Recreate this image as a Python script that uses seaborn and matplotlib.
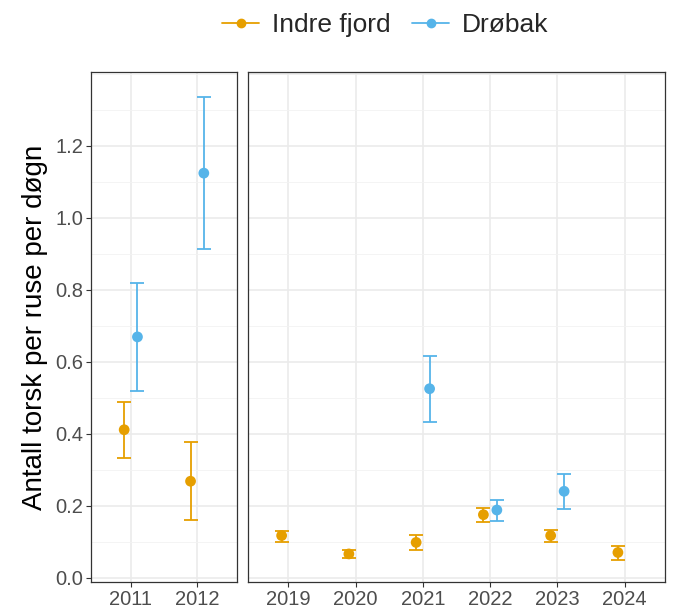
import matplotlib
matplotlib.use("Agg")
import matplotlib.pyplot as plt
from matplotlib.lines import Line2D
from matplotlib.ticker import MultipleLocator
import seaborn as sns
import pandas as pd
import numpy as np

# ---- data ----
years_early = ["2011", "2012"]
years_late = ["2019", "2020", "2021", "2022", "2023", "2024"]

indre_year = ["2011", "2012", "2019", "2020", "2021", "2022", "2023", "2024"]
indre_mean = [0.411, 0.268, 0.117, 0.066, 0.098, 0.175, 0.117, 0.070]
indre_lo = [0.333, 0.160, 0.100, 0.055, 0.077, 0.155, 0.098, 0.050]
indre_hi = [0.488, 0.378, 0.131, 0.076, 0.119, 0.194, 0.132, 0.089]

drobak_year = ["2011", "2012", "2021", "2022", "2023"]
drobak_mean = [0.669, 1.124, 0.525, 0.188, 0.240]
drobak_lo = [0.519, 0.912, 0.433, 0.158, 0.190]
drobak_hi = [0.820, 1.336, 0.617, 0.215, 0.289]

series_names = ["Indre fjord", "Drøbak"]
colors = {"Indre fjord": "#E69F00", "Drøbak": "#56B4E9"}
ylabel = "Antall torsk per ruse per døgn"

df = pd.concat([
    pd.DataFrame({"year": indre_year, "mean": indre_mean, "lo": indre_lo,
                  "hi": indre_hi, "site": "Indre fjord"}),
    pd.DataFrame({"year": drobak_year, "mean": drobak_mean, "lo": drobak_lo,
                  "hi": drobak_hi, "site": "Drøbak"}),
], ignore_index=True)

sns.set_theme(style="white")
plt.rcParams["font.family"] = ["Liberation Sans", "DejaVu Sans"]

fig = plt.figure(figsize=(6.74, 6.12), dpi=100)
W, H = 674, 612
def ax_rect(x0, x1, y0, y1):
    return [x0 / W, 1 - y1 / H, (x1 - x0) / W, (y1 - y0) / H]

ax1 = fig.add_axes(ax_rect(91, 237, 72, 582))
ax2 = fig.add_axes(ax_rect(248, 665, 72, 582))

offsets = {"Indre fjord": -0.1, "Drøbak": 0.1}
ylim = (-0.012, 1.405)

for ax, yrs in [(ax1, years_early), (ax2, years_late)]:
    sub = df[df["year"].isin(yrs)].copy()
    pos = {y: i for i, y in enumerate(yrs)}
    sub["x"] = sub["year"].map(pos) + sub["site"].map(offsets)
    for site in series_names:
        s = sub[sub["site"] == site]
        ax.errorbar(s["x"], s["mean"],
                    yerr=[s["mean"] - s["lo"], s["hi"] - s["mean"]],
                    fmt="none", ecolor=colors[site], elinewidth=1.3,
                    capsize=5, capthick=1.3, zorder=3)
    sns.scatterplot(data=sub, x="x", y="mean", hue="site", palette=colors,
                    hue_order=series_names, s=60, edgecolor="none",
                    legend=False, ax=ax, zorder=4)
    ax.set_xlim(-0.6, len(yrs) - 0.4)
    ax.set_ylim(*ylim)
    ax.set_xticks(range(len(yrs)))
    ax.set_xticklabels(yrs)
    ax.yaxis.set_major_locator(MultipleLocator(0.2))
    ax.yaxis.set_minor_locator(MultipleLocator(0.1))
    ax.grid(which="major", color="#EBEBEB", linewidth=1.2)
    ax.grid(which="minor", axis="y", color="#F2F2F2", linewidth=0.6)
    ax.set_axisbelow(True)
    ax.set_xlabel("")
    ax.set_ylabel("")
    for sp in ax.spines.values():
        sp.set_color("#333333")
        sp.set_linewidth(0.9)
    ax.tick_params(axis="both", which="major", length=3.5, width=0.8,
                   color="#333333", labelsize=14.5, labelcolor="#4D4D4D",
                   bottom=True, left=True, pad=2)
    ax.tick_params(axis="y", which="minor", length=0)

ax1.set_yticks(np.arange(0, 1.21, 0.2))
ax1.set_yticklabels([f"{v:.1f}" for v in np.arange(0, 1.21, 0.2)])
ax2.tick_params(axis="y", which="both", left=False, labelleft=False)
ax1.set_ylabel(ylabel, fontsize=20, color="black", labelpad=5)

handles = [Line2D([0], [0], color=colors[n], marker="o", markersize=6,
                  linewidth=1.3) for n in series_names]
fig.legend(handles, series_names, loc="center", ncol=2,
           bbox_to_anchor=(0.572, 0.959), frameon=False, fontsize=19,
           handlelength=1.4, handletextpad=0.5, columnspacing=0.8)

fig.savefig("out.png", dpi=100)
